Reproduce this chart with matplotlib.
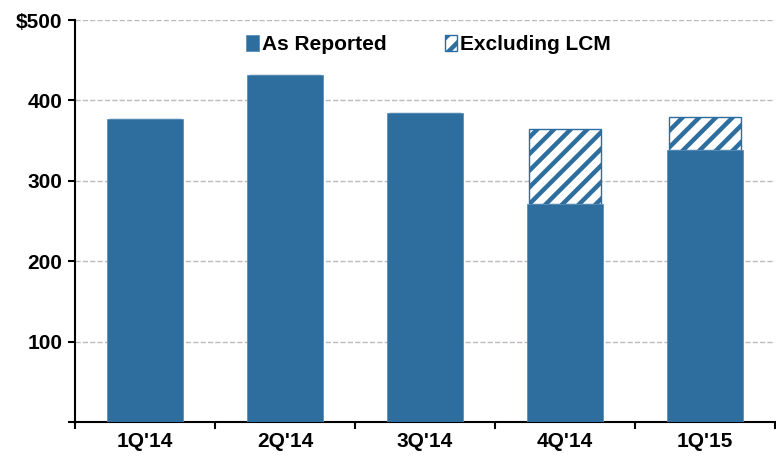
import matplotlib.pyplot as plt
import numpy as np

quarters = ["1Q'14", "2Q'14", "3Q'14", "4Q'14", "1Q'15"]
as_reported = [377, 431, 384, 271, 338]
excluding_lcm = [377, 431, 384, 365, 379]

blue = '#2E6E9E'

plt.rcParams['font.family'] = ['Liberation Sans', 'DejaVu Sans']
plt.rcParams['font.weight'] = 'bold'
plt.rcParams['hatch.linewidth'] = 3.2

fig = plt.figure(figsize=(7.76, 4.57), dpi=100)
ax = fig.add_axes([0.0967, 0.0766, 0.902, 0.8796])

x = np.arange(len(quarters))
extra = [e - r for e, r in zip(excluding_lcm, as_reported)]
ax.bar(x, extra, bottom=as_reported, width=0.52, color='white', edgecolor=blue,
       hatch='//', linewidth=1, label='Excluding LCM', zorder=2)
ax.bar(x, as_reported, width=0.54, color=blue, edgecolor='#5b8fb8', linewidth=0.6,
       label='As Reported', zorder=3)

ax.set_xlim(-0.5, len(quarters) - 0.5)
ax.set_ylim(0, 500)
ax.set_yticks([0, 100, 200, 300, 400, 500])
ax.set_yticklabels(['', '100', '200', '300', '400', '$500'], fontsize=15, fontweight='bold')
ax.set_xticks(x)
ax.set_xticklabels(quarters, fontsize=15, fontweight='bold')
ax.set_xticks(np.arange(len(quarters) + 1) - 0.5, minor=True)
ax.tick_params(axis='x', which='major', length=0, pad=7)
ax.tick_params(axis='x', which='minor', length=5, width=1.5, direction='out')
ax.tick_params(axis='y', length=5, width=1.5, direction='out', pad=4)

ax.yaxis.grid(True, linestyle='--', color='#bbbbbb', linewidth=1, zorder=0)
ax.set_axisbelow(True)
for s in ['top', 'right']:
    ax.spines[s].set_visible(False)
ax.spines['left'].set_linewidth(1.5)
ax.spines['bottom'].set_linewidth(1.5)

handles, labels = ax.get_legend_handles_labels()
ax.legend(handles[::-1], labels[::-1], loc='upper center', bbox_to_anchor=(0.505, 1.01),
          ncol=2, frameon=False, handlelength=0.6, handleheight=0.8,
          handletextpad=0.15, columnspacing=2.8, prop={'weight': 'bold', 'size': 15})

fig.savefig('out.png', dpi=100)
